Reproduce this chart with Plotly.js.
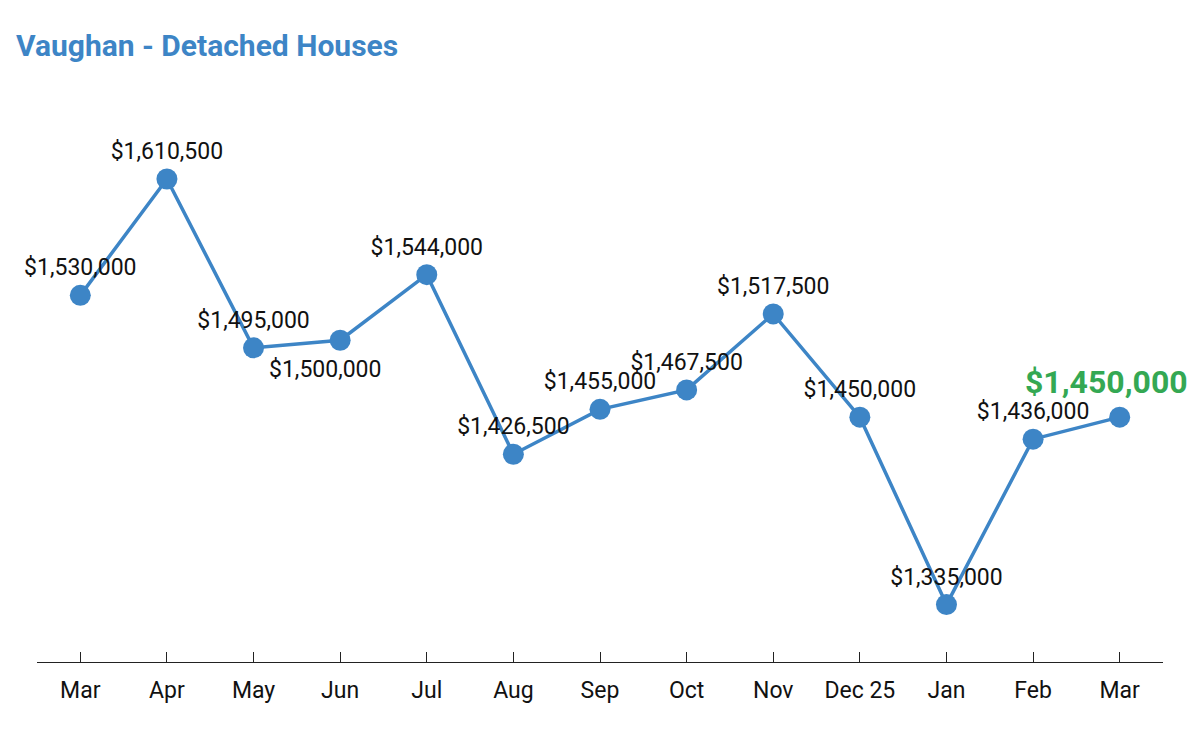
<!DOCTYPE html>
<html>
<head>
<meta charset="utf-8">
<script src="https://cdn.plot.ly/plotly-3.0.1.min.js"></script>
<style>html,body{margin:0;padding:0;background:#fff;}#chart{width:1201px;height:741px;}</style>
</head>
<body>
<div id="chart"></div>
<script>
const months = ["Mar","Apr","May","Jun","Jul","Aug","Sep","Oct","Nov","Dec 25","Jan","Feb","Mar"];
const prices = [1530000,1610500,1495000,1500000,1544000,1426500,1455000,1467500,1517500,1450000,1335000,1436000,1450000];

const idx = months.map((_, i) => i);
const fmt = v => "$" + v.toLocaleString("en-US");
const lastI = prices.length - 1;
const belowI = 3; // Jun label sits below its point
const labels = prices.map((v, i) => (i === lastI || i === belowI) ? "" : fmt(v));

const minP = Math.min(...prices), maxP = Math.max(...prices);

const blue = "#3d85c6";
const trace = {
  x: idx, y: prices, mode: "lines+markers+text", type: "scatter",
  line: {color: blue, width: 3.5},
  marker: {color: blue, size: 21},
  text: labels, textposition: "top center",
  textfont: {family: "Roboto", size: 23, color: "#111"},
  hoverinfo: "skip", cliponaxis: false
};

const layout = {
  width: 1201, height: 741,
  margin: {l: 37, r: 38, t: 101, b: 79},
  paper_bgcolor: "#fff", plot_bgcolor: "#fff",
  showlegend: false,
  title: {text: "<b>Vaughan - Detached Houses</b>", x: 0, xref: "container", xanchor: "left",
          y: 1, yref: "container", yanchor: "top", pad: {t: 35, l: 16},
          font: {family: "Roboto", size: 30, color: blue}},
  xaxis: {
    range: [-0.5, months.length - 0.5], tickvals: idx, ticktext: months,
    showline: true, linecolor: "#222", linewidth: 1.3,
    ticks: "inside", ticklen: 10, tickcolor: "#222", tickwidth: 1,
    showgrid: false, zeroline: false, fixedrange: true,
    tickfont: {family: "Roboto", size: 23, color: "#111"}, ticklabelstandoff: 7
  },
  yaxis: {
    type: "log", range: [Math.log10(minP * 0.975), Math.log10(maxP * 1.035)],
    visible: false, showgrid: false, zeroline: false, fixedrange: true
  },
  annotations: [{
    x: belowI, y: Math.log10(prices[belowI]), xref: "x", yref: "y",
    text: fmt(prices[belowI]), showarrow: false,
    xanchor: "center", yanchor: "top", xshift: -15, yshift: -14,
    font: {family: "Roboto", size: 23, color: "#111"}
  }, {
    x: lastI, y: Math.log10(prices[lastI]), xref: "x", yref: "y",
    text: "<b>" + fmt(prices[lastI]) + "</b>", showarrow: false,
    xanchor: "center", yanchor: "bottom", xshift: -13, yshift: 14,
    font: {family: "Roboto", size: 32, color: "#34a853"}
  }]
};

Plotly.newPlot("chart", [trace], layout, {displayModeBar: false, staticPlot: true});
</script>
</body>
</html>
